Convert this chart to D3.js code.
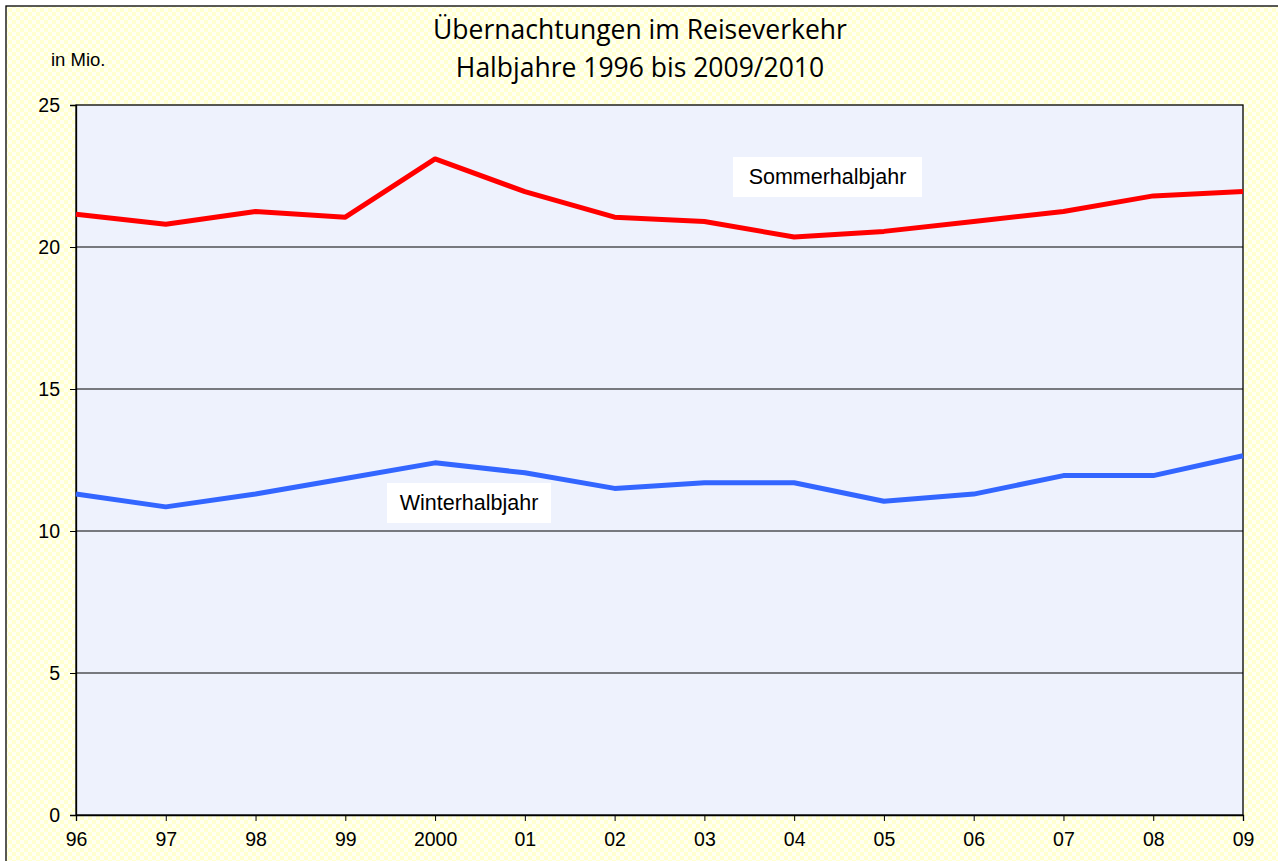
<!DOCTYPE html>
<meta charset="utf-8">
<script src="https://d3js.org/d3.v7.min.js"></script>
<style>
  body { margin: 0; background: #fff; }
</style>
<div id="chart"></div>
<script>

var width = 1278, height = 861;

// data
var jahre = ["96","97","98","99","2000","01","02","03","04","05","06","07","08","09"];
var sommer = [21.15, 20.8, 21.25, 21.05, 23.1, 21.95, 21.05, 20.9, 20.35, 20.55, 20.9, 21.25, 21.8, 21.95];
var winter = [11.3, 10.85, 11.3, 11.85, 12.4, 12.05, 11.5, 11.7, 11.7, 11.05, 11.3, 11.95, 11.95, 12.65];
var yTicks = [0, 5, 10, 15, 20, 25];

var m = {left: 76, top: 105, right: 1243, bottom: 815};

var svg = d3.select("#chart")
  .append("svg")
  .attr("width", width)
  .attr("height", height);

// Karo-Hintergrund
var pat = svg.append("defs").append("pattern")
  .attr("id", "karo")
  .attr("patternUnits", "userSpaceOnUse")
  .attr("width", 8).attr("height", 8);
pat.append("rect").attr("width", 8).attr("height", 8).attr("fill", "#fffff2");
pat.append("rect").attr("width", 4).attr("height", 4).attr("fill", "#ffffcf");
pat.append("rect").attr("x", 4).attr("y", 4).attr("width", 4).attr("height", 4).attr("fill", "#ffffcf");

svg.append("rect")
  .attr("x", 6).attr("y", 6)
  .attr("width", width).attr("height", height)
  .attr("fill", "url(#karo)")
  .attr("stroke", "black")
  .attr("stroke-width", 1.3);

var x = d3.scalePoint().domain(jahre).range([m.left, m.right]);
var y = d3.scaleLinear().domain([0, 25]).range([m.bottom, m.top]);

// Zeichenfläche
svg.append("rect")
  .attr("x", m.left).attr("y", m.top)
  .attr("width", m.right - m.left).attr("height", m.bottom - m.top)
  .attr("fill", "#eef2fd")
  .attr("stroke", "black")
  .attr("stroke-width", 1.3);

// Gitterlinien
svg.append("g")
  .selectAll("line")
  .data(yTicks.filter(function(d) { return d > 0 && d < 25; }))
  .join("line")
  .attr("x1", m.left).attr("x2", m.right)
  .attr("y1", function(d) { return y(d); })
  .attr("y2", function(d) { return y(d); })
  .attr("stroke", "black")
  .attr("stroke-width", 1);

// Achsen
var yAxis = svg.append("g")
  .attr("transform", "translate(" + m.left + ",0)")
  .call(d3.axisLeft(y).tickValues(yTicks).tickSize(6).tickPadding(10));
var xAxis = svg.append("g")
  .attr("transform", "translate(0," + m.bottom + ")")
  .call(d3.axisBottom(x).tickSize(6).tickPadding(11));

[yAxis, xAxis].forEach(function(a) {
  a.select(".domain").attr("stroke", "black").attr("stroke-width", 1.3);
  a.selectAll(".tick line").attr("stroke", "black");
  a.selectAll("text")
    .style("font-family", "Liberation Sans, Arial, sans-serif")
    .style("font-size", "19.5px")
    .attr("fill", "black");
});

// Linien
var line = d3.line()
  .x(function(d, i) { return x(jahre[i]); })
  .y(function(d) { return y(d); });

svg.append("path")
  .datum(winter)
  .attr("d", line)
  .attr("fill", "none")
  .attr("stroke", "#3366ff")
  .attr("stroke-width", 5)
  .attr("stroke-linejoin", "round");

svg.append("path")
  .datum(sommer)
  .attr("d", line)
  .attr("fill", "none")
  .attr("stroke", "#ff0000")
  .attr("stroke-width", 5)
  .attr("stroke-linejoin", "round");

// Beschriftungen der Reihen
var labels = [
  {t: "Sommerhalbjahr", x: 733, y: 157, w: 189, h: 40},
  {t: "Winterhalbjahr", x: 387, y: 483, w: 164, h: 40}
];
var lab = svg.append("g").selectAll("g").data(labels).join("g");
lab.append("rect")
  .attr("x", function(d) { return d.x; })
  .attr("y", function(d) { return d.y; })
  .attr("width", function(d) { return d.w; })
  .attr("height", function(d) { return d.h; })
  .attr("fill", "white");
lab.append("text")
  .attr("x", function(d) { return d.x + d.w / 2; })
  .attr("y", function(d) { return d.y + 27; })
  .attr("text-anchor", "middle")
  .style("font-family", "Liberation Sans, Arial, sans-serif")
  .style("font-size", "21.5px")
  .text(function(d) { return d.t; });

// Titel
var title = svg.append("text")
  .attr("x", 640)
  .attr("text-anchor", "middle")
  .style("font-family", "Open Sans, DejaVu Sans, sans-serif")
  .style("font-size", "26.5px");
title.append("tspan").attr("x", 640).attr("y", 39).text("Übernachtungen im Reiseverkehr");
title.append("tspan").attr("x", 640).attr("y", 77).text("Halbjahre 1996 bis 2009/2010");

svg.append("text")
  .attr("x", 51).attr("y", 66)
  .style("font-family", "Liberation Sans, Arial, sans-serif")
  .style("font-size", "18.5px")
  .text("in Mio.");

</script>
